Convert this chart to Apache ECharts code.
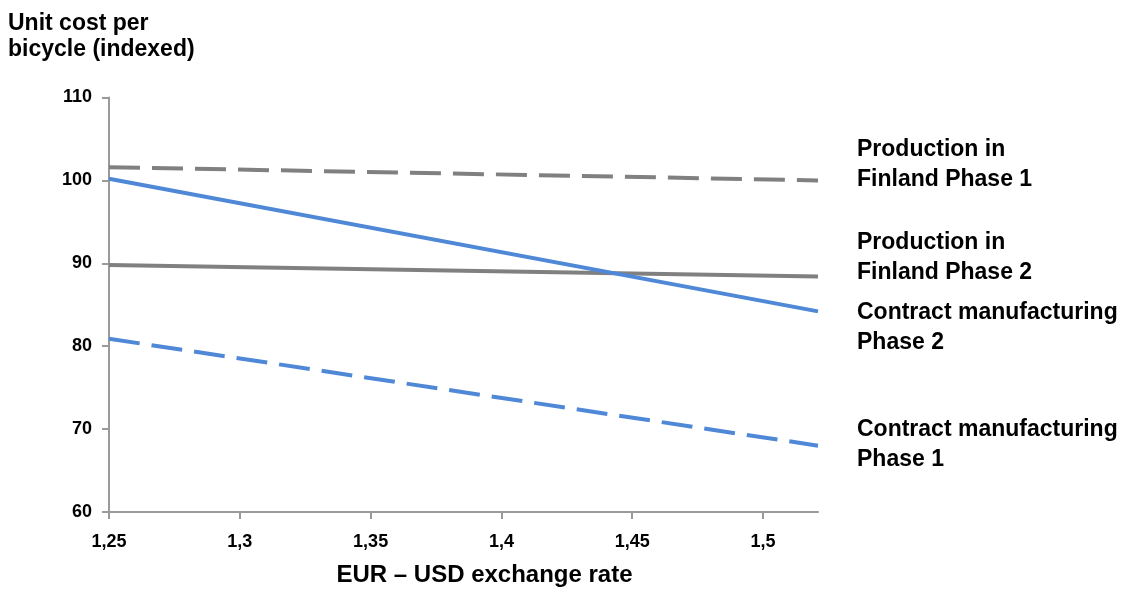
<!DOCTYPE html>
<html>
<head>
<meta charset="utf-8">
<script src="https://cdn.jsdelivr.net/npm/echarts@6/dist/echarts.min.js"></script>
<style>
html,body{margin:0;padding:0;background:#fff;}
#c{width:1136px;height:590px;}
</style>
</head>
<body>
<div id="c"></div>
<script>
// Data
const exchangeRates = [1.25, 1.521];
const finlandPhase1 = [101.6, 100.0];
const finlandPhase2 = [89.8, 88.4];
const contractPhase2 = [100.2, 84.2];
const contractPhase1 = [80.9, 68.0];
const seriesNames = [
  'Production in\nFinland Phase 1',
  'Production in\nFinland Phase 2',
  'Contract manufacturing\nPhase 2',
  'Contract manufacturing\nPhase 1'
];
const yTicks = [60, 70, 80, 90, 100, 110];
const xTicks = [1.25, 1.3, 1.35, 1.4, 1.45, 1.5];

const FONT = '"Liberation Sans", Arial, sans-serif';
const GRAY = '#808080';
const BLUE = '#4F88D6';

function pairs(ys) { return exchangeRates.map((x, i) => [x, ys[i]]); }

function mkSeries(name, ys, color, dashed, dy) {
  return {
    name: name,
    type: 'line',
    data: pairs(ys),
    symbol: 'none',
    silent: true,
    lineStyle: { color: color, width: 4, type: dashed ? [31, 12] : 'solid', cap: 'butt' },
    endLabel: {
      show: true,
      formatter: name,
      color: '#000',
      fontFamily: FONT,
      fontWeight: 'bold',
      fontSize: 23,
      lineHeight: 30,
      distance: 39,
      offset: [0, dy],
      align: 'left'
    }
  };
}

const chart = echarts.init(document.getElementById('c'));
chart.setOption({
  animation: false,
  backgroundColor: '#fff',
  title: {
    text: 'Unit cost per\nbicycle (indexed)',
    left: 3,
    top: 6,
    textStyle: { fontFamily: FONT, fontWeight: 'bold', fontSize: 23, lineHeight: 26, color: '#000' }
  },
  grid: { left: 109, top: 97.5, right: 318, bottom: 78, containLabel: false, outerBoundsMode: 'none' },
  xAxis: {
    type: 'value',
    min: xTicks[0],
    max: exchangeRates[exchangeRates.length - 1],
    interval: 0.05,
    name: 'EUR – USD exchange rate',
    nameLocation: 'middle',
    nameGap: 51,
    nameTextStyle: { fontFamily: FONT, fontWeight: 'bold', fontSize: 24, color: '#000', padding: [0, 0, 0, 42] },
    axisLine: { lineStyle: { color: '#9a9a9a', width: 2 } },
    axisTick: { show: true, length: 7, lineStyle: { color: '#9a9a9a', width: 2 } },
    splitLine: { show: false },
    axisLabel: {
      margin: 21,
      fontFamily: FONT, fontWeight: 'bold', fontSize: 18, color: '#000',
      showMaxLabel: false,
      formatter: v => {
        const r = Math.round(v * 100) / 100;
        return xTicks.some(t => Math.abs(t - r) < 1e-6) ? String(r).replace('.', ',') : '';
      }
    }
  },
  yAxis: {
    type: 'value',
    min: yTicks[0],
    max: yTicks[yTicks.length - 1],
    interval: 10,
    axisLine: { show: true, lineStyle: { color: '#9a9a9a', width: 2 } },
    axisTick: { show: true, length: 7, lineStyle: { color: '#9a9a9a', width: 2 } },
    splitLine: { show: false },
    axisLabel: { margin: 17, fontFamily: FONT, fontWeight: 'bold', fontSize: 18, color: '#000' }
  },
  series: [
    mkSeries(seriesNames[0], finlandPhase1, GRAY, true, -16),
    mkSeries(seriesNames[1], finlandPhase2, GRAY, false, -18.5),
    mkSeries(seriesNames[2], contractPhase2, BLUE, false, 16),
    mkSeries(seriesNames[3], contractPhase1, BLUE, true, -1)
  ]
});
</script>
</body>
</html>
